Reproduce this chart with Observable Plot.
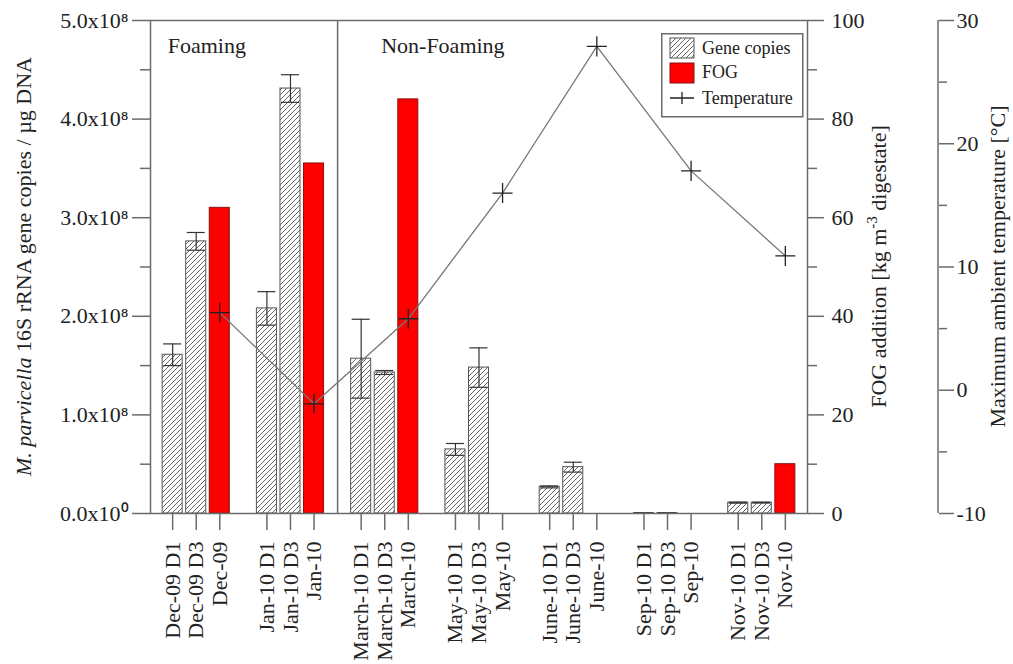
<!DOCTYPE html>
<html><head><meta charset="utf-8">
<script src="https://cdn.jsdelivr.net/npm/d3@7"></script>
<script src="https://cdn.jsdelivr.net/npm/@observablehq/plot@0.6"></script>
<style>
body{margin:0;background:#fff;}
#wrap{position:relative;width:1013px;height:664px;font-family:"Liberation Serif","Times New Roman",serif;color:#222;}
#legend{position:absolute;left:661px;top:33px;}
</style></head><body>
<svg width="0" height="0" style="position:absolute">
  <defs>
    <pattern id="hatch" patternUnits="userSpaceOnUse" width="5" height="5">
      <rect width="5" height="5" fill="#fff"/>
      <path d="M0,5L5,0M-1,1L1,-1M4,6L6,4" stroke="#555" stroke-width="0.9"/>
    </pattern>
  </defs>
</svg>
<div id="wrap"></div>
<script>
// ---- data ----
const groups = ["Dec-09", "Jan-10", "March-10", "May-10", "June-10", "Sep-10", "Nov-10"];
const geneD1 = [1.61e8, 2.08e8, 1.57e8, 0.65e8, 0.27e8, 0.004e8, 0.11e8];
const geneD1Err = [0.11e8, 0.17e8, 0.40e8, 0.06e8, 0.01e8, 0, 0.005e8];
const geneD3 = [2.76e8, 4.31e8, 1.43e8, 1.48e8, 0.47e8, 0.004e8, 0.11e8];
const geneD3Err = [0.09e8, 0.14e8, 0.02e8, 0.20e8, 0.05e8, 0, 0.004e8];
const fog = [62, 71, 84, 0, 0, 0, 10];              // kg m-3 digestate
const temperature = [6.3, -1.1, 5.8, 16.0, 27.9, 17.8, 10.9]; // °C
const seriesNames = ["Gene copies", "FOG", "Temperature"];
const phases = [{label: "Foaming", start: "Dec-09"}, {label: "Non-Foaming", start: "March-10"}];
const leftTicks = [0, 1e8, 2e8, 3e8, 4e8, 5e8];
const leftTickLabels = ["0.0x10⁰", "1.0x10⁸", "2.0x10⁸", "3.0x10⁸", "4.0x10⁸", "5.0x10⁸"];
const leftMinor = [0.5e8, 1.5e8, 2.5e8, 3.5e8, 4.5e8];
const fogTicks = [0, 20, 40, 60, 80, 100];
const fogMinor = [10, 30, 50, 70, 90];
const tempTicks = [-10, 0, 10, 20, 30];
const tempMinor = [-5, 5, 15, 25];
const yMax = 5e8, fogMax = 100, tempMin = -10, tempMax = 30;

// ---- derived ----
const fogToY = v => v / fogMax * yMax;
const tempToY = t => (t - tempMin) / (tempMax - tempMin) * yMax;
const yToFog = y => Math.round(y / yMax * fogMax);
const yToTemp = y => Math.round(y / yMax * (tempMax - tempMin) + tempMin);

const slots = [];
groups.forEach((g, i) => {
  slots.push(`${g} D1`, `${g} D3`, g);
  if (i < groups.length - 1) slots.push(`gap${i}`);
});
const tickSlots = slots.filter(s => !s.startsWith("gap"));
const geneRows = [];
groups.forEach((g, i) => {
  geneRows.push({slot: `${g} D1`, value: geneD1[i], err: geneD1Err[i]});
  geneRows.push({slot: `${g} D3`, value: geneD3[i], err: geneD3Err[i]});
});
const fogRows = groups.map((g, i) => ({slot: g, value: fog[i]})).filter(d => d.value > 0);
const tempRows = groups.map((g, i) => ({slot: g, t: temperature[i]}));
const phaseRows = phases.map(p => ({label: p.label, slot: `${p.start} D1`}));
const dividerSlot = `gap${groups.indexOf(phases[1].start) - 1}`;

const axisColor = "#6b6b6b";
const W = 1013, H = 664, mL = 150, mR = 206, mT = 20, mB = 151;
const tempAxisOffset = 131;
const phaseDx = [-5, 20];

const chart = Plot.plot({
  width: W, height: H,
  marginLeft: mL, marginRight: mR, marginTop: mT, marginBottom: mB,
  style: {fontFamily: '"Liberation Serif","Times New Roman",serif', fontSize: "22px", color: "#222", background: "#fff"},
  x: {type: "band", domain: slots, paddingInner: 0.15, paddingOuter: 0.515, round: false, axis: null},
  y: {domain: [0, yMax], axis: null},
  marks: [
    Plot.barY(geneRows, {x: "slot", y: "value", fill: "url(#hatch)", stroke: "#555", strokeWidth: 1}),
    Plot.barY(fogRows, {x: "slot", y: d => fogToY(d.value), fill: "#ff0000", stroke: "#8a1010", strokeWidth: 1}),
    Plot.ruleX(geneRows, {x: "slot", y1: d => d.value - d.err, y2: d => d.value + d.err, stroke: "#333", strokeWidth: 1.2}),
    Plot.tickY(geneRows, {x: "slot", y: d => d.value + d.err, stroke: "#333", strokeWidth: 1.2, insetLeft: 1, insetRight: 1}),
    Plot.tickY(geneRows, {x: "slot", y: d => d.value - d.err, stroke: "#333", strokeWidth: 1.2, insetLeft: 1, insetRight: 1}),
    Plot.ruleX([dividerSlot], {stroke: axisColor, strokeWidth: 1.5}),
    Plot.line(tempRows, {x: "slot", y: d => tempToY(d.t), stroke: "#777", strokeWidth: 1.3}),
    Plot.dot(tempRows, {x: "slot", y: d => tempToY(d.t), symbol: "plus", r: 6.5, stroke: "#222", strokeWidth: 1.3}),
    ...phaseRows.map((p, i) => Plot.text([p], {x: "slot", text: "label", frameAnchor: "top", lineAnchor: "top", textAnchor: "start", dx: phaseDx[i], dy: 17, fontSize: 22, fill: "#222"})),
    Plot.frame({stroke: axisColor, strokeWidth: 1.5}),
    // left axis
    Plot.axisY(leftTicks, {anchor: "left", tickSize: 18, tickPadding: 4, tickFormat: d => leftTickLabels[leftTicks.indexOf(d)], stroke: axisColor, strokeWidth: 1.5, fill: "#222", label: null}),
    Plot.axisY(leftMinor, {anchor: "left", tickSize: 10, tickFormat: () => "", stroke: axisColor, strokeWidth: 1.5, label: null}),
    // FOG axis
    Plot.axisY(fogTicks.map(fogToY), {anchor: "right", tickSize: 16, tickPadding: 8, tickFormat: d => String(yToFog(d)), stroke: axisColor, strokeWidth: 1.5, fill: "#222", label: null}),
    Plot.axisY(fogMinor.map(fogToY), {anchor: "right", tickSize: 9, tickFormat: () => "", stroke: axisColor, strokeWidth: 1.5, label: null}),
    // temperature axis
    Plot.axisY(tempTicks.map(tempToY), {anchor: "right", dx: tempAxisOffset, tickSize: 15, tickPadding: 3, tickFormat: d => String(yToTemp(d)), stroke: axisColor, strokeWidth: 1.5, fill: "#222", label: null}),
    Plot.axisY(tempMinor.map(tempToY), {anchor: "right", dx: tempAxisOffset, tickSize: 8, tickFormat: () => "", stroke: axisColor, strokeWidth: 1.5, label: null}),
    // x axis
    Plot.axisX(tickSlots, {anchor: "bottom", tickSize: 17, tickPadding: 11, tickRotate: -90, stroke: axisColor, strokeWidth: 1.5, fill: "#222", label: null})
  ]
});

// axis line and titles
const svg = d3.select(chart);
svg.append("line")
  .attr("x1", W - mR + tempAxisOffset).attr("x2", W - mR + tempAxisOffset)
  .attr("y1", mT).attr("y2", H - mB)
  .attr("stroke", axisColor).attr("stroke-width", 1.5);
const midY = mT + (H - mT - mB) / 2;
const t1 = svg.append("text").attr("transform", `translate(31,${midY}) rotate(-90)`)
  .attr("text-anchor", "middle").attr("font-size", 22).attr("fill", "#222");
t1.append("tspan").attr("font-style", "italic").text("M. parvicella");
t1.append("tspan").text(" 16S rRNA gene copies / µg DNA");
const t2 = svg.append("text").attr("transform", `translate(886,${midY}) rotate(-90)`)
  .attr("text-anchor", "middle").attr("font-size", 22).attr("fill", "#222");
t2.append("tspan").text("FOG addition [kg m");
t2.append("tspan").attr("dy", -9).attr("font-size", 15).text("-3");
t2.append("tspan").attr("dy", 9).text(" digestate]");
svg.append("text").attr("transform", `translate(1005,${midY}) rotate(-90)`)
  .attr("text-anchor", "middle").attr("font-size", 22).attr("fill", "#222")
  .text("Maximum ambient temperature [°C]");

document.getElementById("wrap").appendChild(chart);

// legend
const lg = d3.select("#wrap").append("svg").attr("id", "legend").attr("width", 143).attr("height", 85);
lg.append("rect").attr("x", 0.75).attr("y", 0.75).attr("width", 141).attr("height", 83)
  .attr("fill", "#fff").attr("stroke", axisColor).attr("stroke-width", 1.5);
lg.append("rect").attr("x", 9).attr("y", 5).attr("width", 24).attr("height", 20)
  .attr("fill", "url(#hatch)").attr("stroke", "#555");
lg.append("rect").attr("x", 9).attr("y", 30).attr("width", 24).attr("height", 20)
  .attr("fill", "#ff0000").attr("stroke", "#8a1010");
lg.append("path").attr("d", "M9,65H33M21,59V71").attr("stroke", "#222").attr("stroke-width", 1.3);
seriesNames.forEach((n, i) => {
  lg.append("text").attr("x", 41).attr("y", [21, 45, 71][i]).attr("font-size", 18)
    .attr("font-family", '"Liberation Serif","Times New Roman",serif').attr("fill", "#222").text(n);
});
</script>
</body></html>
